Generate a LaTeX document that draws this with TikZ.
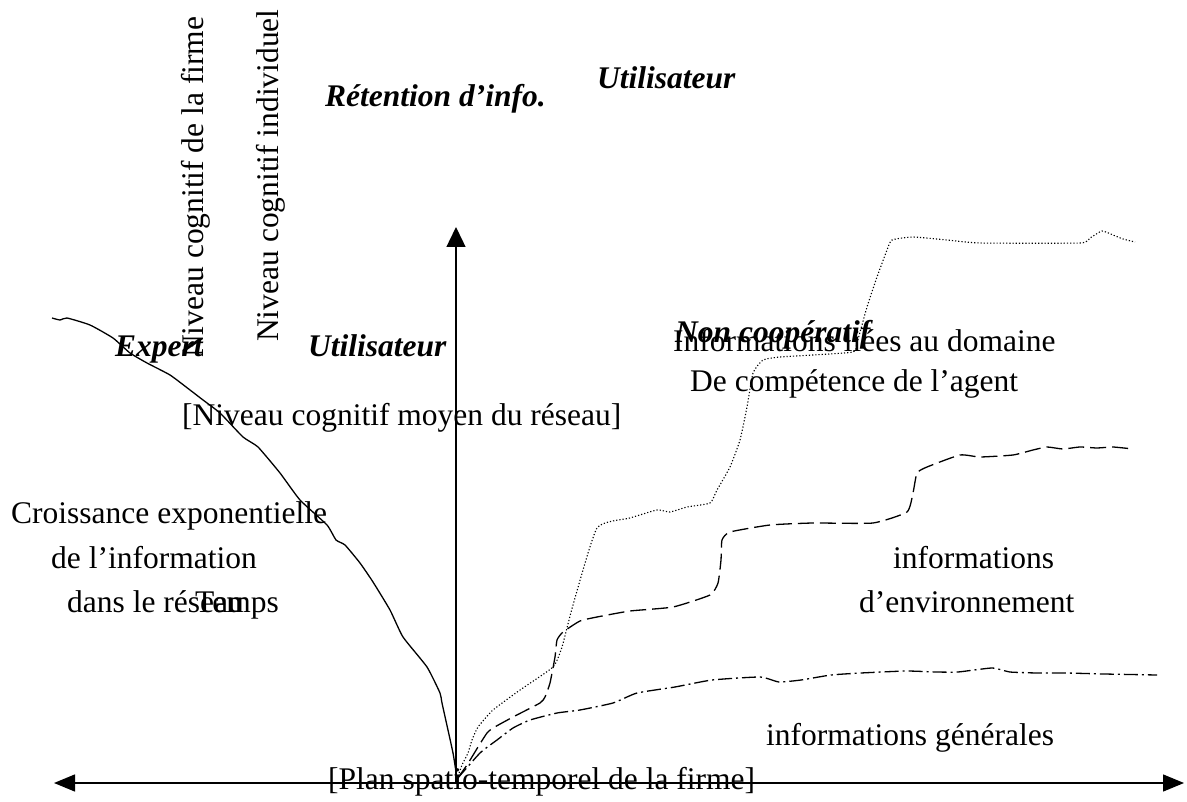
\documentclass[tikz,border=0pt]{standalone}
\usepackage{fontspec}
\setmainfont{Liberation Serif}
\usetikzlibrary{positioning, arrows.meta}

\tikzset{
  lbl/.style={inner sep=0pt, anchor=base west, font=\fontsize{31.5}{38}\selectfont},
  role/.style={lbl, font=\fontsize{31.5}{38}\selectfont\bfseries\itshape},
  tip/.style={-{Triangle[length=20pt,width=19pt]}},
  axis/.style={line width=1.4pt},
  curve/.style={line width=1.3pt, line join=round},
  expertline/.style={curve},
  agentline/.style={curve, line width=1.1pt, dash pattern=on 1.2pt off 2pt},
  envline/.style={curve, dash pattern=on 16pt off 6pt},
  genline/.style={curve, dash pattern=on 14pt off 4pt on 2pt off 4pt}
}

\begin{document}
\begin{tikzpicture}[x=1pt, y=-1pt]
   \useasboundingbox (0,0) rectangle (1187,802);
   \coordinate (conv) at (457,779);
   \coordinate (xleft) at (54,783);
   \coordinate (xright) at (1184,783);
   \coordinate (ybase) at (456,783);
   \coordinate (ytop) at (456,227);

   \node[lbl, rotate=90] (firme) at (203,358) {Niveau cognitif de la firme};
   \node[lbl, rotate=90] (indiv) at (278,342) {Niveau cognitif individuel};
   \node[role] (retention) at (325,107) {Rétention d’info.};
   \node[role] (util_top) at (597,89) {Utilisateur};
   \node[role] (expert) at (115,357) {Expert};
   \node[role] (util_low) at (308,357) {Utilisateur};
   \node[lbl] (moyen) at (182,425) {[Niveau cognitif moyen du réseau]};
   \node[lbl] (domaine) at (673,352) {Informations liées au domaine};
   \node[role] (noncoop) at (675,343) {Non coopératif};
   \node[lbl] (competence) at (690,392) {De compétence de l’agent};
   \node[lbl] (crois_1) at (11,523) {Croissance exponentielle};
   \node[lbl] (crois_2) at (51,568) {de l’information};
   \node[lbl] (crois_3) at (67,612) {dans le réseau};
   \node[lbl] (temps) at (195,612) {Temps};
   \node[lbl] (env_1) at (893,568) {informations};
   \node[lbl] (env_2) at (859,612) {d’environnement};
   \node[lbl] (gen) at (766,745) {informations générales};
   \node[lbl] (plan) at (328,789) {[Plan spatio-temporel de la firme]};

   \draw[axis, {Triangle[length=21pt,width=17pt]}-{Triangle[length=21pt,width=17pt]}] (xleft) -- (xright);
   \draw[axis, tip] (ybase) -- (ytop);

   \draw[expertline] plot[smooth, tension=0.3] coordinates {
      (52,318) (60,320) (67,318) (90,325) (113,338) (130,353) (147,363)
      (170,375) (190,390) (203,400) (220,413) (243,437) (258,447) (280,473)
      (300,500) (327,525) (336,540) (345,545) (360,563) (373,582) (390,610)
      (403,637) (427,667) (440,693) (442,703) (453,753) (conv)};
   \draw[agentline] plot[smooth, tension=0.3] coordinates {
      (conv) (462,765) (468,753) (472,740) (478,727) (493,710) (520,690)
      (553,667) (562,647) (573,605) (597,528) (630,518) (657,510) (670,512)
      (687,507) (710,503) (717,490) (730,467) (740,440) (747,407) (753,373)
      (763,360) (780,357) (813,355) (853,352) (857,343) (867,307) (877,277)
      (887,250) (892,240) (913,237) (947,240) (980,243) (1080,243) (1090,238)
      (1102,231) (1113,235) (1123,239) (1135,242)};
   \draw[envline] plot[smooth, tension=0.3] coordinates {
      (conv) (467,765) (478,747) (487,733) (493,728) (513,717) (540,703)
      (545,697) (550,683) (555,657) (557,640) (563,632) (580,621) (597,617)
      (630,611) (673,607) (710,595) (718,583) (721,560) (722,540) (730,532)
      (770,525) (813,523) (873,523) (907,512) (913,493) (917,473) (927,467)
      (960,455) (980,457) (1013,455) (1033,450) (1047,447) (1063,449)
      (1080,447) (1097,448) (1113,447) (1133,449)};
   \draw[genline] plot[smooth, tension=0.3] coordinates {
      (conv) (480,753) (497,740) (513,728) (530,720) (557,713) (580,710)
      (613,703) (637,693) (675,687) (712,680) (760,677) (779,682) (801,680)
      (831,675) (861,673) (906,671) (936,672) (958,672) (992,668) (1010,672)
      (1037,673) (1066,673) (1104,674) (1157,675)};
\end{tikzpicture}
\end{document}
